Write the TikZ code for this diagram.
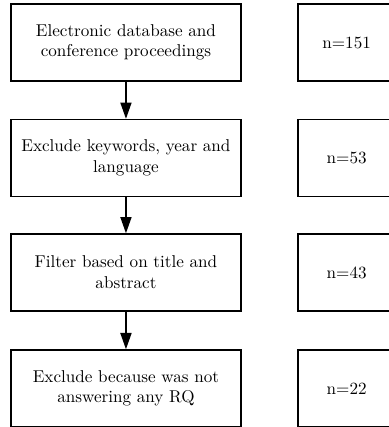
\documentclass[tikz,border=0pt]{standalone}
\usepackage{amsmath,tikz}
\usetikzlibrary{arrows.meta,positioning}

\tikzset{
	stepbox/.style={draw, thick, minimum width=4.72cm, minimum height=1.58cm, align=center, inner sep=2pt},
	countbox/.style={draw, thick, minimum width=2.0cm, minimum height=1.58cm, align=center},
	flow/.style={thick, -{Triangle[length=9.5pt,width=6.5pt]}}
}

\begin{document}
\begin{tikzpicture}
		\useasboundingbox (0,0) rectangle (7.97,-8.77);
		\draw (2.587,-0.873) node [stepbox] (search) {Electronic database and\\conference proceedings};
		\draw (2.587,-3.244) node [stepbox] (keywords) {Exclude keywords, year and\\language};
		\draw (2.587,-5.595) node [stepbox] (title) {Filter based on title and\\abstract};
		\draw (2.587,-7.977) node [stepbox] (rq) {Exclude because was not\\answering any RQ};

		\draw (7.12,-0.873) node [countbox] (nsearch) {n=151};
		\draw (7.12,-3.244) node [countbox] (nkeywords) {n=53};
		\draw (7.12,-5.595) node [countbox] (ntitle) {n=43};
		\draw (7.12,-7.977) node [countbox] (nrq) {n=22};

		\draw
			(search) edge [flow] (keywords)
			(keywords) edge [flow] (title)
			(title) edge [flow] (rq)
		;
	\end{tikzpicture}
\end{document}
